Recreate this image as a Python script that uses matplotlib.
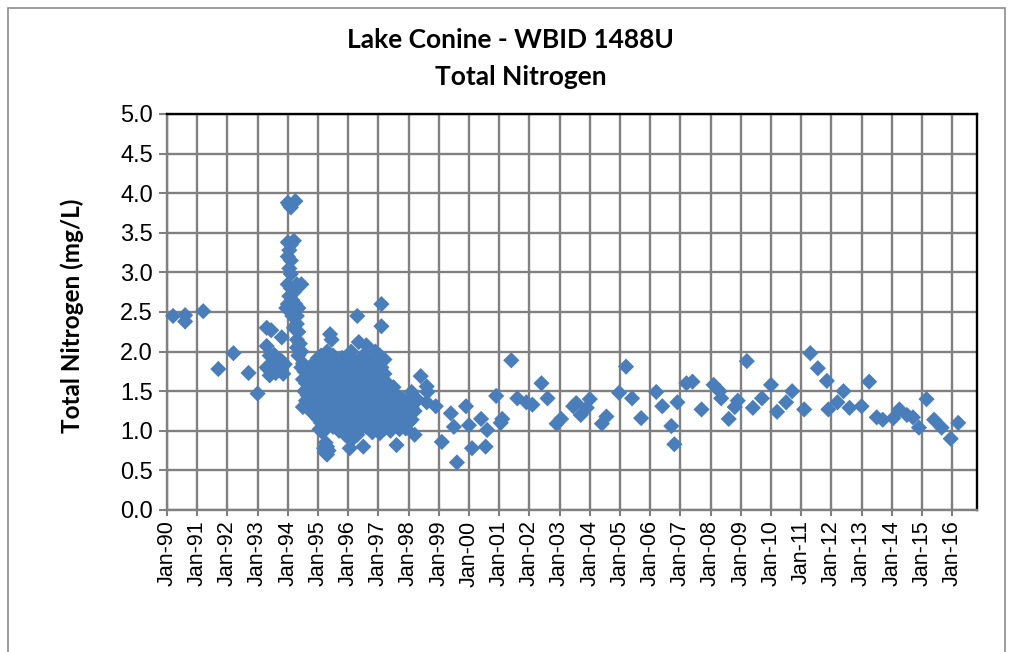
import matplotlib
matplotlib.use("Agg")
import matplotlib.pyplot as plt
from matplotlib.patches import Rectangle

# ---- data (decimal year, total nitrogen mg/L) ----
early_years = [1990.2, 1990.6, 1990.6, 1991.2, 1991.7, 1992.2, 1992.7, 1993.0,
               1993.3, 1993.45, 1993.8, 1993.3,
               1993.35, 1993.45, 1993.55, 1993.6, 1993.7, 1993.5, 1993.4, 1993.65,
               1993.75, 1993.8, 1993.3, 1993.55, 1993.85, 1993.9, 1993.4, 1993.6]
early_vals = [2.45, 2.38, 2.46, 2.51, 1.78, 1.98, 1.73, 1.47,
              2.30, 2.27, 2.18, 2.07,
              1.78, 1.82, 1.75, 1.85, 1.90, 1.92, 1.95, 1.80,
              1.76, 1.88, 1.80, 1.96, 1.72, 1.84, 1.70, 1.73]

col94_years = [1994.0, 1994.1, 1994.25, 1994.05,
               1994.0, 1994.1, 1994.05, 1994.0, 1994.1, 1994.05, 1994.2, 1994.1,
               1994.0, 1994.1, 1994.2, 1994.05, 1994.15, 1994.0, 1994.25, 1994.3,
               1994.45, 1994.1, 1994.2, 1994.3, 1994.15, 1993.95, 1994.35,
               1994.3, 1994.2, 1994.35, 1994.3, 1994.4, 1994.3, 1994.45, 1994.35,
               1994.5, 1994.45, 1994.55, 1994.5, 1994.6, 1994.55, 1994.65, 1994.6,
               1994.5, 1994.7, 1994.75]
col94_vals = [3.88, 3.82, 3.90, 3.85,
              3.38, 3.35, 3.28, 3.20, 3.15, 3.05, 3.40, 2.98,
              2.85, 2.80, 2.75, 2.70, 2.65, 2.60, 2.60, 2.85,
              2.85, 2.55, 2.50, 2.45, 2.45, 2.55, 2.55,
              2.35, 2.30, 2.25, 2.15, 2.10, 2.05, 2.00, 1.95,
              1.85, 1.80, 1.75, 1.65, 1.60, 1.50, 1.45, 1.38,
              1.30, 1.32, 1.25]

blob_years = (
    [1994.75] * 4 + [1994.8] * 4 + [1994.85] * 4 + [1994.9] * 4 +
    [1995.0] * 6 + [1995.05] * 4 + [1995.1] * 6 + [1995.15] * 4 +
    [1995.2] * 7 + [1995.25] * 5 + [1995.3] * 8 + [1995.35] * 5 +
    [1995.4] * 6 + [1995.45] * 5 + [1995.5] * 6 + [1995.6] * 5 +
    [1995.7] * 5 + [1995.8] * 6 + [1995.9] * 5 + [1996.0] * 6 +
    [1996.05] * 2 + [1996.1] * 7 + [1996.2] * 6 + [1996.3] * 7 +
    [1996.35] * 1 + [1996.4] * 6 + [1996.5] * 7 + [1996.6] * 6 +
    [1996.7] * 5 + [1996.8] * 6 + [1996.9] * 6 + [1997.0] * 6 +
    [1997.05] * 5 + [1997.1] * 7 + [1997.2] * 6 + [1997.3] * 4 +
    [1997.4] * 4 + [1997.5] * 4 + [1997.6] * 4 + [1997.7] * 3 +
    [1997.8] * 3 + [1997.9] * 3 + [1998.0] * 3 + [1998.1] * 3 +
    [1998.2] * 2 + [1998.3] * 1)
blob_vals = [
    1.35, 1.50, 1.62, 1.78,
    1.25, 1.42, 1.55, 1.70,
    1.30, 1.48, 1.60, 1.85,
    1.20, 1.38, 1.52, 1.66,
    1.15, 1.28, 1.45, 1.58, 1.72, 1.92,
    1.02, 1.35, 1.50, 1.65,
    1.10, 1.22, 1.40, 1.55, 1.80, 1.95,
    0.98, 1.30, 1.47, 1.62,
    0.78, 1.05, 1.18, 1.36, 1.52, 1.70, 1.88,
    0.72, 0.85, 1.25, 1.42, 1.58,
    0.70, 0.80, 1.12, 1.30, 1.48, 1.65, 1.82, 2.00,
    0.75, 1.20, 1.38, 1.55, 1.72,
    1.08, 1.27, 1.45, 1.60, 1.90, 2.22,
    1.15, 1.33, 1.50, 1.68, 2.15,
    1.05, 1.22, 1.40, 1.57, 1.75, 1.95,
    1.12, 1.30, 1.47, 1.63, 1.85,
    1.00, 1.18, 1.36, 1.52, 1.70,
    1.08, 1.25, 1.42, 1.60, 1.78, 1.92,
    0.95, 1.15, 1.32, 1.50, 1.67,
    1.05, 1.22, 1.40, 1.57, 1.75, 1.90,
    0.92, 0.78,
    0.88, 1.12, 1.30, 1.47, 1.65, 1.82, 2.00,
    1.00, 1.18, 1.36, 1.55, 1.72, 1.88,
    0.95, 1.08, 1.25, 1.43, 1.62, 1.80, 2.45,
    2.12,
    1.02, 1.15, 1.32, 1.50, 1.68, 1.85,
    0.80, 1.10, 1.28, 1.45, 1.60, 1.78, 1.95,
    1.05, 1.20, 1.38, 1.55, 1.72, 2.08,
    1.12, 1.30, 1.48, 1.65, 1.82,
    0.98, 1.18, 1.35, 1.52, 1.70, 1.90,
    1.08, 1.25, 1.42, 1.60, 1.78, 2.00,
    1.02, 1.15, 1.32, 1.50, 1.68, 1.85,
    0.97, 1.22, 1.40, 1.58, 1.95,
    1.10, 1.28, 1.45, 1.62, 1.80, 2.32, 2.60,
    1.03, 1.18, 1.35, 1.52, 1.72, 1.90,
    1.08, 1.25, 1.42, 1.60,
    1.00, 1.15, 1.32, 1.50,
    1.05, 1.20, 1.38, 1.55,
    0.82, 1.10, 1.25, 1.45,
    1.02, 1.18, 1.30,
    1.08, 1.22, 1.40,
    1.03, 1.15, 1.30,
    1.10, 1.21, 1.38,
    1.14, 1.29, 1.49,
    0.95, 1.25,
    1.39]

late_years = [1998.4, 1998.6, 1998.62, 1998.6, 1998.9, 1999.1, 1999.4, 1999.9,
              1999.5, 1999.6, 2000.0, 2000.4, 2000.6, 2000.1, 2000.55, 2000.9,
              2001.1, 2001.05, 2001.4, 2001.6, 2001.9, 2002.1, 2002.4, 2002.6,
              2002.9, 2003.05, 2003.45, 2003.55, 2003.7, 2003.9, 2004.0, 2004.4,
              2004.55, 2004.97, 2005.2, 2005.4, 2005.7, 2006.2, 2006.4, 2006.7,
              2006.8, 2006.9, 2007.2, 2007.4, 2007.7, 2008.1, 2008.3, 2008.35,
              2008.6, 2008.8, 2008.9, 2009.2, 2009.4, 2009.7, 2010.0, 2010.2,
              2010.5, 2010.7, 2011.1, 2011.3, 2011.55, 2011.85, 2011.9, 2012.2,
              2012.4, 2012.6, 2013.0, 2013.25, 2013.5, 2013.7, 2014.05, 2014.25,
              2014.5, 2014.7, 2014.9, 2015.15, 2015.4, 2015.65, 2015.95, 2016.2]
late_vals = [1.69, 1.56, 1.49, 1.36, 1.31, 0.86, 1.22, 1.31,
             1.05, 0.60, 1.07, 1.15, 1.01, 0.78, 0.80, 1.44,
             1.15, 1.10, 1.89, 1.41, 1.36, 1.33, 1.60, 1.41,
             1.09, 1.15, 1.31, 1.35, 1.20, 1.29, 1.40, 1.09,
             1.18, 1.48, 1.81, 1.41, 1.16, 1.49, 1.31, 1.06,
             0.83, 1.36, 1.60, 1.62, 1.27, 1.58, 1.50, 1.41,
             1.15, 1.30, 1.38, 1.88, 1.29, 1.41, 1.58, 1.24,
             1.36, 1.50, 1.27, 1.98, 1.79, 1.63, 1.27, 1.36,
             1.50, 1.29, 1.31, 1.62, 1.17, 1.14, 1.16, 1.27,
             1.20, 1.17, 1.04, 1.40, 1.14, 1.04, 0.90, 1.10]

tick_years = list(range(1990, 2017))
tick_labels = ["Jan-%02d" % (y % 100) for y in tick_years]
y_ticks = [0.0, 0.5, 1.0, 1.5, 2.0, 2.5, 3.0, 3.5, 4.0, 4.5, 5.0]

years = early_years + col94_years + blob_years + late_years
vals = early_vals + col94_vals + blob_vals + late_vals

# ---- figure ----
W, H = 1011, 652
fig = plt.figure(figsize=(W / 100, H / 100), dpi=100)
fig.patches.append(Rectangle((8 / W, -0.1), (1005 - 8) / W, 1.1 - 8 / H,
                             transform=fig.transFigure, fill=False,
                             edgecolor="#8c8c8c", lw=1.2))

ax = fig.add_axes([167 / W, 1 - 510 / H, (977 - 167) / W, (510 - 114) / H])
ax.scatter(years, vals, marker="D", s=68, color="#4a7ebb", edgecolors="none",
           zorder=3, clip_on=False)

ax.set_xlim(1990, 1990 + (977 - 167) / 30.2)
ax.set_ylim(0, 5)
ax.set_xticks(tick_years)
ax.set_xticklabels(tick_labels, rotation=90, fontsize=15.5,
                   family="Liberation Sans")
ax.set_yticks(y_ticks)
ax.set_yticklabels(["%.1f" % v for v in y_ticks], fontsize=17,
                   family="Liberation Sans")
ax.grid(True, color="#808080", lw=1.7, zorder=0)
ax.set_axisbelow(True)
ax.tick_params(axis="x", direction="inout", length=9, width=1.5,
               color="#808080", pad=3)
ax.tick_params(axis="y", direction="out", length=6, width=1.5,
               color="#808080", pad=4)
for s in ("left", "bottom"):
    ax.spines[s].set_color("#808080")
    ax.spines[s].set_linewidth(1.7)
for s in ("top", "right"):
    ax.spines[s].set_color("black")
    ax.spines[s].set_linewidth(1.7)

ax.set_ylabel("Total Nitrogen (mg/L)", fontsize=17.5, fontweight="bold",
              family="Lato")
ax.yaxis.set_label_coords((84 - 167) / 810, 0.49)

fig.text(0.505, 1 - 40 / H, "Lake Conine - WBID 1488U", ha="center",
         va="center", fontsize=19, fontweight="bold", family="Lato")
fig.text(0.515, 1 - 77 / H, "Total Nitrogen", ha="center", va="center",
         fontsize=19, fontweight="bold", family="Lato")

fig.savefig("out.png", dpi=100)
